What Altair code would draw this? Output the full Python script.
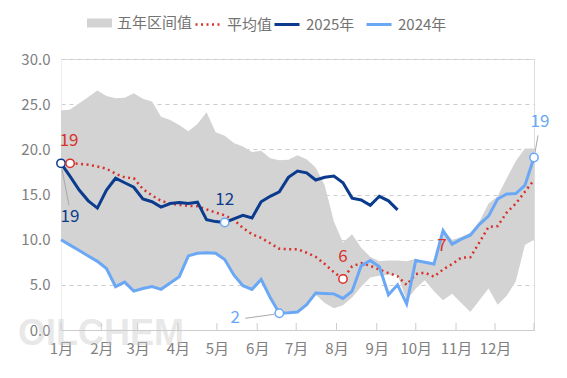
import json
import altair as alt
import pandas as pd

# ---------------- data ----------------
weeks = list(range(53))
month_labels = ["1月", "2月", "3月", "4月", "5月", "6月", "7月", "8月", "9月", "10月", "11月", "12月"]
month_days = [0, 31, 59, 90, 120, 151, 181, 212, 243, 273, 304, 334]
y_ticks = [0, 5, 10, 15, 20, 25, 30]

band_upper = [24.3, 24.4, 25.1, 25.8, 26.5, 25.9, 25.65, 25.7, 26.2, 25.6, 25.3, 23.6, 23.25, 22.7,
              22.0, 22.8, 24.1, 21.9, 21.5, 20.7, 20.3, 19.7, 19.85, 19.0, 18.8, 18.85, 19.35, 18.9,
              18.0, 16.0, 12.0, 9.7, 10.6, 9.1, 8.1, 7.6, 7.7, 7.7, 7.6, 7.9, 7.6, 7.5, 11.1, 10.0,
              10.3, 10.8, 12.0, 14.0, 14.8, 16.8, 18.7, 20.1, 20.1]
band_lower = [10.0, 9.4, 8.8, 8.2, 7.6, 6.8, 4.8, 5.3, 4.3, 4.6, 4.8, 4.5, 5.2, 5.9, 8.2, 8.5, 8.55,
              8.5, 7.8, 6.1, 4.9, 4.5, 5.6, 3.6, 1.85, 1.9, 2.0, 2.8, 3.9, 3.0, 2.4, 2.75, 3.6, 4.8,
              5.8, 6.0, 6.1, 6.1, 3.3, 4.6, 5.5, 4.3, 3.3, 4.0, 3.0, 2.0, 3.3, 4.6, 2.8, 3.8, 5.4,
              9.4, 10.0]
avg_values = [None, 18.45, 18.4, 18.3, 18.1, 17.85, 17.3, 16.9, 16.8, 15.6, 14.9, 14.3, 14.0, 13.85,
              13.75, 13.7, 13.35, 13.0, 12.7, 12.2, 11.3, 10.6, 10.2, 9.6, 9.0, 8.95, 8.95, 8.55, 8.1,
              7.3, 6.4, 5.65, 7.05, 7.4, 7.1, 6.7, 6.3, 5.95, 5.0, 6.2, 6.35, 5.9, 6.7, 7.3, 8.0,
              8.05, 9.7, 11.4, 11.5, 13.0, 14.0, 15.3, 16.6]
s2025 = [18.45, 17.0, 15.5, 14.3, 13.5, 15.5, 16.8, 16.3, 15.8, 14.5, 14.2, 13.6, 14.0, 14.1, 14.0,
         14.15, 12.2, 12.0, 11.9, 12.3, 12.7, 12.4, 14.2, 14.8, 15.3, 16.9, 17.6, 17.4, 16.6, 16.9,
         17.05, 16.3, 14.6, 14.4, 13.8, 14.8, 14.3, 13.3]
s2024 = [10.0, 9.4, 8.8, 8.2, 7.6, 6.8, 4.8, 5.3, 4.3, 4.6, 4.8, 4.5, 5.2, 5.9, 8.2, 8.5, 8.55, 8.5,
         7.8, 6.1, 4.9, 4.5, 5.6, 3.6, 1.85, 1.9, 2.0, 2.8, 4.1, 4.05, 4.0, 3.5, 4.3, 7.1, 7.7, 7.0,
         3.9, 5.0, 2.9, 7.7, 7.5, 7.3, 11.0, 9.5, 10.05, 10.5, 11.7, 12.6, 14.5, 15.05, 15.1, 16.0, 19.1]

series_names = ["五年区间值", "平均值", "2025年", "2024年"]

# ---------------- styling ----------------
FONT = "Noto Sans CJK SC"
C_BAND = "#d3d3d3"
C_AVG = "#d7322b"
C_25 = "#0b3b8c"
C_24 = "#6aa8f6"
W, H = 473, 271
PX_DAY = W / 364
PX_UNIT = H / 30

days = [7 * w for w in weeks]

band_df = pd.DataFrame({"day": days, "lower": band_lower, "upper": band_upper,
                        "name": series_names[0]})
avg_df = pd.DataFrame({"day": days, "v": avg_values, "name": series_names[1]}).dropna()
lines_df = pd.concat([
    pd.DataFrame({"day": days[:len(s2025)], "v": s2025, "name": series_names[2]}),
    pd.DataFrame({"day": days, "v": s2024, "name": series_names[3]}),
])

# annotations: (week, value, text, colour, circle colour, label dx px, label dy px)
ann = [
    (0, s2025[0], "19", C_25, C_25, 9, 54),
    (1, avg_values[1], "19", C_AVG, C_AVG, -1, -22),
    (18, s2025[18], "12", C_25, C_24, 0, -23),
    (31, avg_values[31], "6", C_AVG, C_AVG, 0, -22),
    (42, avg_values[42], "7", C_AVG, None, -1, -23),
    (24, s2024[24], "2", C_24, C_24, -44, 5),
    (52, s2024[52], "19", C_24, C_24, 6, -35),
]
ann_df = pd.DataFrame([{
    "day": 7 * w, "v": v, "text": t, "tc": tc, "cc": cc,
    "lx": 7 * w + dx / PX_DAY, "ly": v - dy / PX_UNIT,
} for (w, v, t, tc, cc, dx, dy) in ann])
circ_df = ann_df[ann_df["cc"].notna()]

# leader lines (start/end pixel offsets from the point)
leaders = [(0, s2025[0], 1, 6, 8, 42), (24, s2024[24], -34, 5, -5, 1), (52, s2024[52], 1, -5, 4, -22)]
lead_df = pd.DataFrame([{
    "x1": 7 * w + a / PX_DAY, "y1": v - b / PX_UNIT,
    "x2": 7 * w + c / PX_DAY, "y2": v - d / PX_UNIT,
} for (w, v, a, b, c, d) in leaders])

xscale = alt.Scale(domain=[0, 364], nice=False, zero=False)
yscale = alt.Scale(domain=[0, 30], nice=False)

label_expr = "%s[indexof(%s, datum.value)]" % (json.dumps(month_labels, ensure_ascii=False),
                                               json.dumps(month_days))
x_axis = alt.Axis(values=month_days, labelExpr=label_expr, ticks=False, grid=False,
                  domainColor="#cccccc", labelFontSize=15, labelColor="#808080",
                  labelPadding=11, labelFont=FONT, labelFlush=False, labelOverlap=False,
                  title=None)
y_axis = alt.Axis(values=y_ticks, format=".1f", ticks=False, grid=True, gridColor="#cccccc",
                  gridDash=[4, 4], domainColor="#eeeeee", labelFontSize=15, labelColor="#808080",
                  labelPadding=11, labelFont=FONT, labelFlush=False, title=None)


def X(field):
    return alt.X(field, scale=xscale, axis=x_axis)


def Y(field):
    return alt.Y(field, scale=yscale, axis=y_axis)


leg_common = dict(orient="none", direction="horizontal", title=None, labelFontSize=15,
                  labelColor="#737373", labelFont=FONT, symbolSize=625, labelOffset=5,
                  columnPadding=5, padding=0)

band = alt.Chart(band_df).mark_area(opacity=1, interpolate="linear").encode(
    x=X("day:Q"),
    y=Y("lower:Q"),
    y2="upper:Q",
    fill=alt.Fill("name:N", scale=alt.Scale(domain=[series_names[0]], range=[C_BAND]),
                  legend=alt.Legend(legendX=26, legendY=-48.5,
                                    symbolType="M-1,-0.36L1,-0.36L1,0.36L-1,0.36Z",
                                    symbolStrokeWidth=0, **leg_common)),
)

xticks = alt.Chart(pd.DataFrame({"day": month_days + [364]})).mark_rule(
    color="#cccccc", strokeWidth=1).encode(
    x=X("day:Q"),
    y=alt.value(H - 7), y2=alt.value(H),
)

avg = alt.Chart(avg_df).mark_line(color=C_AVG, strokeWidth=2.5, strokeCap="butt").encode(
    x=X("day:Q"),
    y=Y("v:Q"),
    strokeDash=alt.StrokeDash("name:N", scale=alt.Scale(domain=[series_names[1]], range=[[2, 3.5]]),
                              legend=alt.Legend(legendX=133, legendY=-48.5, symbolType="stroke",
                                                symbolStrokeColor=C_AVG, symbolStrokeWidth=2.5,
                                                **leg_common)),
)

lines = alt.Chart(lines_df).mark_line(strokeWidth=3).encode(
    x=X("day:Q"),
    y=Y("v:Q"),
    color=alt.Color("name:N", scale=alt.Scale(domain=series_names[2:], range=[C_25, C_24]),
                    legend=alt.Legend(legendX=212, legendY=-48.5, symbolType="stroke",
                                      symbolStrokeWidth=3, **leg_common)),
)

lead = alt.Chart(lead_df).mark_rule(color="#a8a8a8", strokeWidth=1).encode(
    x=X("x1:Q"), y=Y("y1:Q"),
    x2="x2:Q", y2="y2:Q",
)

circles = alt.Chart(circ_df).mark_point(shape="circle", filled=True, fill="white", size=70,
                                         strokeWidth=1.5, opacity=1).encode(
    x=X("day:Q"),
    y=Y("v:Q"),
    stroke=alt.Stroke("cc:N", scale=None),
)

labels = alt.Chart(ann_df).mark_text(fontSize=17, font=FONT, align="center",
                                     baseline="middle").encode(
    x=X("lx:Q"),
    y=Y("ly:Q"),
    text="text:N",
    color=alt.Color("tc:N", scale=None),
)

watermark = alt.Chart(pd.DataFrame({"t": ["OILCHEM"]})).mark_text(
    fontSize=36, fontWeight="bold", font="Liberation Sans", color="#c8c8c8", opacity=0.4,
    align="center", baseline="middle").encode(
    text="t:N", x=alt.value(40), y=alt.value(275),
)

chart = alt.layer(band, xticks, watermark, avg, lines, lead, circles, labels).resolve_scale(
    color="independent"
).properties(
    width=W, height=H,
    autosize=alt.AutoSizeParams(type="none"),
    padding={"left": 61, "top": 59, "right": 33, "bottom": 48},
).configure_view(strokeWidth=0, stroke="transparent").configure(font=FONT)

chart.save("out.html", embed_options={"renderer": "svg", "actions": False})
